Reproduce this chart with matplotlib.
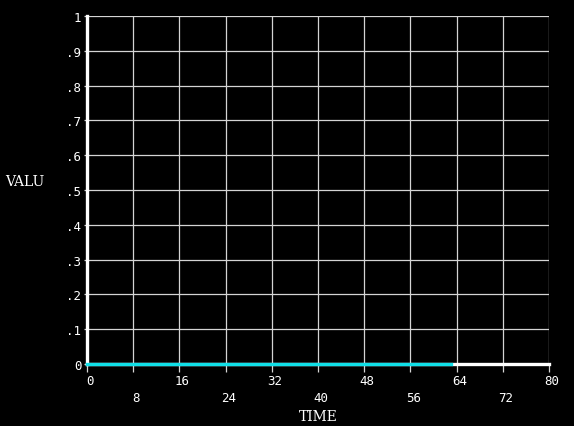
import numpy as np
import matplotlib
matplotlib.use("Agg")
import matplotlib.pyplot as plt

# data
time = [0, 63]
valu = [0.0, 0.0]
x_ticks = [0, 8, 16, 24, 32, 40, 48, 56, 64, 72, 80]
y_ticks = [0, 0.1, 0.2, 0.3, 0.4, 0.5, 0.6, 0.7, 0.8, 0.9, 1.0]
y_labels = ["0", ".1", ".2", ".3", ".4", ".5", ".6", ".7", ".8", ".9", "1"]

fig = plt.figure(figsize=(5.74, 4.27), dpi=100, facecolor="black")
ax = fig.add_axes([87 / 574, 1 - 365 / 427, 462 / 574, 348 / 427])
ax.set_facecolor("black")

ax.set_xlim(0, 80)
ax.set_ylim(0, 1)

ax.grid(True, color="#d4d4d4", linewidth=0.9)
ax.set_axisbelow(True)

for s in ["top", "right"]:
    ax.spines[s].set_visible(False)
ax.spines["left"].set_color("white")
ax.spines["left"].set_linewidth(2.4)
ax.spines["bottom"].set_color("white")
ax.spines["bottom"].set_linewidth(2.4)

ax.plot(time, valu, color="#10e0e8", linewidth=2.4, zorder=5, clip_on=False)

mono = "DejaVu Sans Mono"
ax.set_xticks(x_ticks)
ax.set_xticklabels([])
ax.tick_params(axis="x", length=6, width=0.9, color="#d4d4d4", direction="out")
for i, t in enumerate(x_ticks):
    dy = -17 if i % 2 == 0 else -34
    ax.annotate(str(t), xy=(t, 0), xycoords="data", xytext=(3, dy),
                textcoords="offset pixels", ha="center", va="center",
                color="white", fontsize=9, family=mono)

ax.set_yticks(y_ticks)
ax.set_yticklabels(y_labels, color="white", fontsize=9, family=mono)
ax.tick_params(axis="y", length=2, width=0.9, color="#d4d4d4", pad=2)

fig.text(25 / 574, 1 - 182 / 427, "VALU", color="white", fontsize=10,
         family="DejaVu Serif", ha="center", va="center")
fig.text(318 / 574, 1 - 417 / 427, "TIME", color="white", fontsize=10,
         family="DejaVu Serif", ha="center", va="center")

fig.savefig("out.png", dpi=100, facecolor="black")
